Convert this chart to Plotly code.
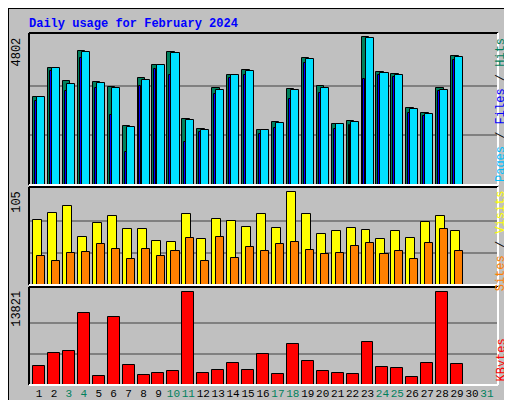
import plotly.graph_objects as go
from plotly.subplots import make_subplots

# data
days = list(range(1, 30))
hits = [2836, 3771, 3352, 4318, 3320, 3158, 1901, 3448, 3867, 4286, 2127, 1805, 3126, 3545, 3706,
        1772, 2030, 3094, 4093, 3190, 1966, 2062, 4770, 3642, 3577, 2481, 2320, 3126, 4157]
files = [2836, 3771, 3255, 4286, 3287, 3126, 1869, 3384, 3867, 4254, 2095, 1772, 3061, 3545, 3674,
         1772, 1998, 3061, 4060, 3126, 1966, 2030, 4738, 3610, 3545, 2449, 2288, 3061, 4125]
pages = [2707, 3674, 3030, 4093, 3126, 2256, 1062, 3190, 3738, 3545, 1384, 1708, 2933, 3448, 3545,
         1642, 1837, 2771, 3932, 2965, 1805, 1933, 3416, 3545, 3481, 2320, 2224, 3030, 4029]
visits = [72, 79, 87, 53, 68, 76, 62, 62, 48, 47, 78, 51, 73, 71, 64,
          78, 63, 102, 78, 56, 59, 63, 61, 51, 59, 52, 69, 76, 60]
sites = [32, 27, 35, 36, 45, 40, 29, 40, 32, 38, 52, 27, 53, 30, 42,
         37, 45, 47, 39, 34, 35, 43, 46, 34, 38, 29, 46, 62, 37]
kbytes = [2814, 4774, 5076, 10806, 1307, 10203, 2965, 1457, 1759, 2061, 13821, 1759, 2211, 3267, 2211,
          4624, 1608, 6131, 3568, 2061, 1759, 1608, 6433, 2664, 2513, 1156, 3267, 13821, 3116]
weekends = [3, 4, 10, 11, 17, 18, 24, 25, 31]
max_hits, max_visits, max_kb = 4802, 105, 13821

GREEN = "#00805C"
FONT = "Liberation Mono"

fig = make_subplots(rows=3, cols=1, shared_xaxes=True)

def bars(y, row, color, offset, width):
    fig.add_trace(go.Bar(x=days, y=y, marker_color=color, offset=offset, width=width,
                         marker_line=dict(color="black", width=1), showlegend=False), row=row, col=1)

bars(hits, 1, GREEN, -0.4, 0.5)
bars(pages, 1, "#0000FF", -0.27, 0.13)
bars(files, 1, "#00E0FF", -0.13, 0.54)
bars(visits, 2, "#FFFF00", -0.4, 0.6)
bars(sites, 2, "#FF8000", -0.13, 0.54)
bars(kbytes, 3, "#FF0000", -0.4, 0.8)

ticktext = [f"<span style='color:{GREEN if d in weekends else 'black'}'>{d}</span>" for d in range(1, 32)]

ax = dict(range=[0.33, 31.74], domain=[21 / 512, 490 / 512], showgrid=False, zeroline=False,
          tickvals=list(range(1, 32)), ticktext=ticktext, ticks="", showticklabels=False,
          tickangle=0)
fig.update_layout(xaxis=ax, xaxis2=ax, xaxis3=dict(ax, showticklabels=True))
fig.update_xaxes(tickfont=dict(family=FONT, size=11, color="black"))

yax = dict(showticklabels=False, zeroline=False, gridcolor="#808080", gridwidth=1.5, ticks="")
fig.update_layout(
    yaxis=dict(yax, domain=[0.5575, 0.9375], range=[0, 4899], tickvals=[1601, 3201]),
    yaxis2=dict(yax, domain=[0.3075, 0.5525], range=[0, 108], tickvals=[35, 70]),
    yaxis3=dict(yax, domain=[0.0575, 0.3025], range=[0, 14620], tickvals=[4607, 9214]),
)

shapes = [
    dict(type="rect", xref="paper", yref="paper", x0=0, x1=1, y0=0, y1=1,
         line=dict(color="black", width=2), layer="below"),
    dict(type="rect", xref="paper", yref="paper", x0=505 / 512, x1=511 / 512, y0=1 / 400, y1=395 / 400,
         fillcolor="#808080", line_width=0, layer="below"),
    dict(type="rect", xref="paper", yref="paper", x0=5 / 512, x1=511 / 512, y0=1 / 400, y1=6 / 400,
         fillcolor="#808080", line_width=0, layer="below"),
]
for y0, y1 in [(0.5575, 0.9375), (0.3075, 0.5525), (0.0575, 0.3025)]:
    shapes.append(dict(type="line", xref="paper", yref="paper", x0=21 / 512, x1=490 / 512, y0=y1, y1=y1,
                       line=dict(color="black", width=2)))
    shapes.append(dict(type="line", xref="paper", yref="paper", x0=21 / 512, x1=21 / 512, y0=y0, y1=y1,
                       line=dict(color="black", width=2)))
    shapes.append(dict(type="line", xref="paper", yref="paper", x0=21 / 512, x1=490 / 512, y0=y0, y1=y0,
                       line=dict(color="white", width=2)))
    shapes.append(dict(type="line", xref="paper", yref="paper", x0=490 / 512, x1=490 / 512, y0=y0, y1=y1,
                       line=dict(color="white", width=2)))

def side(text, x, y, anchor):
    return dict(text=text, xref="paper", yref="paper", x=x, y=y, textangle=-90, showarrow=False,
                xanchor="center", yanchor=anchor, font=dict(family=FONT, size=12, color="black"))

annotations = [
    dict(text="<b>Daily usage for February 2024</b>", xref="paper", yref="paper", x=19 / 512, y=1 - 16 / 400,
         xanchor="left", yanchor="middle", showarrow=False, font=dict(family=FONT, size=12, color="#0000FF")),
    side(str(max_hits), 9 / 512, 0.93, "top"),
    side(str(max_visits), 9 / 512, 0.548, "top"),
    side(str(max_kb), 9 / 512, 0.298, "top"),
    side(f"<span style='color:#00C0FF'>Pages</span> / <span style='color:#0000FF'>Files</span> / "
         f"<span style='color:{GREEN}'>Hits</span>", 493 / 512, 0.93, "top"),
    side("<span style='color:#FF8000'>Sites</span> / <span style='color:#FFFF00'>Visits</span>",
         493 / 512, 0.548, "top"),
    side("<span style='color:#FF0000'>KBytes</span>", 493 / 512, 0.06, "bottom"),
]

fig.update_layout(width=512, height=400, margin=dict(l=0, r=0, t=0, b=0),
                  paper_bgcolor="#C0C0C0", plot_bgcolor="#C0C0C0", barmode="overlay",
                  shapes=shapes, annotations=annotations, bargap=0)

fig.write_html("out.html")
